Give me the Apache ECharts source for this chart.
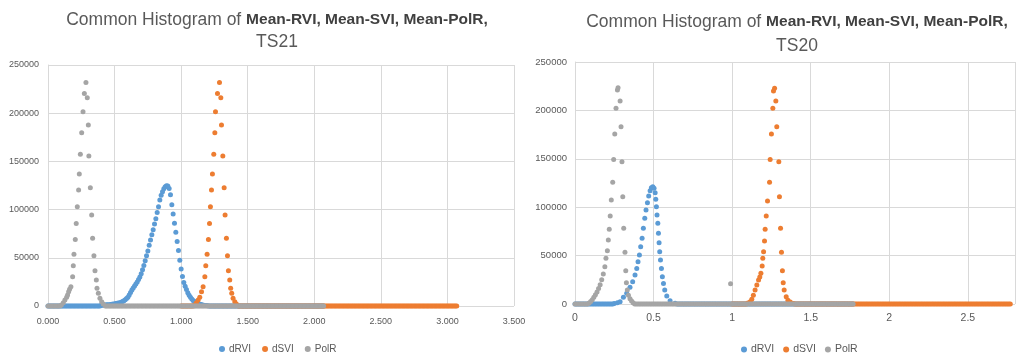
<!DOCTYPE html>
<html>
<head>
<meta charset="utf-8">
<script src="https://cdn.jsdelivr.net/npm/echarts@6/dist/echarts.min.js"></script>
<style>
  html, body { margin: 0; padding: 0; background: #fff; }
  #chart { width: 1017px; height: 358px; }
</style>
</head>
<body>
<div id="chart"></div>
<script>
// histogram bin width used for the flat (zero count) stretches
const binStep = 0.01

const seriesNames = ['dRVI', 'dSVI', 'PolR']
const yTicks = [0, 50000, 100000, 150000, 200000, 250000]

// ---- TS21 (left) ----
const ts21RviX = [0.40, 0.41, 0.42, 0.43, 0.44, 0.45, 0.46, 0.47, 0.48, 0.49, 0.50, 0.51, 0.52, 0.53, 0.54, 0.55, 0.56, 0.57, 0.58, 0.59,
  0.60, 0.61, 0.62, 0.63, 0.64, 0.65, 0.66, 0.67, 0.68, 0.69, 0.70, 0.71, 0.72, 0.73, 0.74, 0.75, 0.76, 0.77, 0.78, 0.79,
  0.80, 0.81, 0.82, 0.83, 0.84, 0.85, 0.86, 0.87, 0.88, 0.89, 0.90, 0.91, 0.92, 0.93, 0.94, 0.95, 0.96, 0.97, 0.98, 0.99,
  1.00, 1.01, 1.02, 1.03, 1.04, 1.05, 1.06, 1.07, 1.08, 1.09, 1.10, 1.11, 1.12, 1.13, 1.14, 1.15, 1.16, 1.17, 1.18, 1.19, 1.20]
const ts21RviY = [800, 900, 1000, 1100, 1200, 1300, 1400, 1600, 1800, 2000, 2200, 2500, 2800, 3100, 3500, 4000, 4600, 5400, 6400, 7700,
  9200, 11500, 14000, 16500, 18800, 20800, 22800, 25000, 27500, 30000, 33500, 37500, 42000, 47000, 52000, 57000, 63000, 68500, 74000, 79000,
  85000, 90500, 97000, 103000, 110000, 115000, 118600, 121500, 123700, 124800, 124500, 122000, 115500, 105000, 95400, 85800, 76400, 67000, 57500, 47500,
  38500, 30500, 24500, 20500, 17000, 13800, 11200, 9000, 7200, 5800, 4700, 3800, 3000, 2400, 1900, 1500, 1100, 800, 600, 400, 300]
const ts21RviZeros = [[0, 0.39], [1.21, 2.07]]

const ts21SviX = [1.10, 1.115, 1.128, 1.14, 1.153, 1.165, 1.178, 1.185, 1.195, 1.205, 1.213, 1.22, 1.228, 1.235, 1.245, 1.253, 1.258, 1.273,
  1.288, 1.298, 1.303, 1.313, 1.323, 1.33, 1.34, 1.348, 1.355, 1.365, 1.372, 1.38, 1.39, 1.403, 1.415]
const ts21SviY = [1000, 3400, 6200, 9000, 14900, 20000, 30400, 41800, 53600, 69100, 85700, 103000, 120300, 136900, 157300, 179800, 201500, 220500,
  231900, 216000, 187700, 155600, 122700, 94400, 70200, 52200, 36600, 27000, 18300, 13100, 8000, 4500, 2100]
const ts21SviZeros = [[1.0, 1.09], [1.43, 3.07]]

const ts21PolrX = [0.10, 0.115, 0.127, 0.14, 0.147, 0.155, 0.162, 0.172, 0.185, 0.19, 0.195, 0.205, 0.212, 0.22, 0.23, 0.235, 0.243, 0.253, 0.263, 0.273,
  0.285, 0.295, 0.303, 0.307, 0.318, 0.328, 0.335, 0.345, 0.353, 0.363, 0.368, 0.378, 0.39, 0.403, 0.415]
const ts21PolrY = [1000, 3400, 6200, 9000, 11400, 14900, 17300, 20000, 30400, 41800, 53600, 69100, 85700, 103000, 120300, 136900, 157300, 179800, 201500, 220500,
  231900, 216000, 187700, 155600, 122700, 94400, 70200, 52200, 36600, 27000, 18300, 13100, 8000, 4500, 2100]
const ts21PolrZeros = [[0, 0.09], [0.43, 2.07]]

// ---- TS20 (right) ----
const ts20RviX = [0.25, 0.27, 0.287, 0.308, 0.329, 0.35, 0.367, 0.382, 0.393, 0.401, 0.41, 0.418, 0.427, 0.435, 0.444, 0.452, 0.461, 0.469, 0.478, 0.486,
  0.495, 0.503, 0.51, 0.514, 0.518, 0.522, 0.527, 0.531, 0.535, 0.539, 0.544, 0.55, 0.556, 0.563, 0.571, 0.584, 0.605, 0.637]
const ts20RviY = [500, 1200, 2400, 6900, 11000, 17200, 23100, 30000, 36800, 43700, 50600, 59200, 67800, 78200, 88500, 97100, 104700, 111600, 117100, 120200,
  121200, 119500, 115000, 108100, 100500, 91900, 83300, 73000, 63400, 54000, 45500, 36800, 28200, 21300, 14500, 8300, 3400, 700]
const ts20RviZeros = [[0, 0.24], [0.65, 1.77]]

const ts20SviX = [1.10, 1.115, 1.125, 1.135, 1.146, 1.157, 1.168, 1.176, 1.183, 1.191, 1.195, 1.20, 1.206, 1.21, 1.217, 1.225, 1.238, 1.242, 1.25, 1.259,
  1.263, 1.27, 1.278, 1.284, 1.297, 1.301, 1.308, 1.314, 1.32, 1.325, 1.331, 1.344, 1.355, 1.37, 1.39]
const ts20SviY = [1000, 2400, 5000, 9000, 14500, 19500, 24800, 28000, 31700, 39300, 47200, 54000, 65100, 77100, 90900, 106400, 125700, 149400, 175600, 202100,
  220000, 222800, 209700, 183200, 147000, 110900, 78200, 53400, 34400, 22000, 14500, 7600, 4000, 2000, 500]
const ts20SviZeros = [[1.0, 1.09], [1.40, 2.77]]

const ts20PolrX = [0.09, 0.10, 0.11, 0.12, 0.13, 0.14, 0.15, 0.16, 0.17, 0.18, 0.19, 0.197, 0.206, 0.212, 0.218, 0.224, 0.231, 0.24, 0.246, 0.253,
  0.261, 0.27, 0.274, 0.287, 0.293, 0.299, 0.304, 0.31, 0.318, 0.323, 0.327, 0.333, 0.34, 0.35, 0.36, 0.37, 0.99]
const ts20PolrY = [1000, 2500, 4500, 7000, 9500, 12500, 16000, 20000, 25000, 31000, 38600, 47200, 55100, 66100, 77100, 90900, 107400, 125700, 149400, 175600,
  202100, 221000, 223500, 209700, 183200, 147000, 110900, 78200, 53400, 34400, 22000, 14500, 9000, 5500, 3000, 1200, 21000]
const ts20PolrZeros = [[0, 0.08], [0.38, 1.77]]

const colors = ['#5B9BD5', '#ED7D31', '#A5A5A5']

function buildPoints(xs, ys, zeros) {
  const pts = []
  zeros.forEach(([a, b]) => {
    for (let x = a; x <= b + 1e-9; x += binStep) pts.push([+x.toFixed(3), 0])
  })
  xs.forEach((x, i) => pts.push([x, ys[i]]))
  return pts
}

const gridLine = { lineStyle: { color: '#D9D9D9', width: 1 } }
const txt = '#595959'

function yAxisOf(gridIndex, size, margin) {
  return {
    type: 'value', gridIndex, min: yTicks[0], max: yTicks[yTicks.length - 1], interval: 50000,
    axisLine: { show: true, lineStyle: { color: '#D9D9D9' } },
    axisTick: { show: false },
    axisLabel: { color: txt, fontSize: size, margin, fontFamily: 'Liberation Sans', formatter: (v) => String(v) },
    splitLine: gridLine,
  }
}

const chartData = [
  [ts21RviX, ts21RviY, ts21RviZeros], [ts21SviX, ts21SviY, ts21SviZeros], [ts21PolrX, ts21PolrY, ts21PolrZeros],
  [ts20RviX, ts20RviY, ts20RviZeros], [ts20SviX, ts20SviY, ts20SviZeros], [ts20PolrX, ts20PolrY, ts20PolrZeros],
]

const series = chartData.map((d, i) => ({
  name: seriesNames[i % 3],
  type: 'scatter',
  xAxisIndex: i < 3 ? 0 : 1,
  yAxisIndex: i < 3 ? 0 : 1,
  symbolSize: 5,
  itemStyle: { color: colors[i % 3], opacity: 1 },
  data: buildPoints(d[0], d[1], d[2]),
  z: 2 + (i % 3),
}))

const titleRich = {
  n: { fontSize: 17.5, color: '#595959', fontWeight: 'normal', fontFamily: 'Liberation Sans' },
  b: { fontSize: 15.5, color: '#404040', fontWeight: 'bold', fontFamily: 'Liberation Sans' },
}

const option = {
  animation: false,
  color: colors,
  title: [
    {
      text: '{n|Common Histogram of }{b|Mean-RVI, Mean-SVI, Mean-PolR,}\n{n|TS21}',
      left: 272, top: 4, textAlign: 'center',
      textStyle: { lineHeight: 22, fontWeight: 'normal', rich: titleRich },
    },
    {
      text: '{n|Common Histogram of }{b|Mean-RVI, Mean-SVI, Mean-PolR,}\n{n|TS20}',
      left: 792, top: 5, textAlign: 'center',
      textStyle: { lineHeight: 24, fontWeight: 'normal', rich: titleRich },
    },
  ],
  legend: [
    {
      data: seriesNames, left: 214, top: 339, icon: 'circle', itemWidth: 6, itemHeight: 6, itemGap: 11,
      textStyle: { color: txt, fontSize: 10, fontFamily: 'Liberation Sans', padding: [0, 0, 0, -1] },
    },
    {
      data: seriesNames, left: 736, top: 339, icon: 'circle', itemWidth: 6, itemHeight: 6, itemGap: 9,
      textStyle: { color: txt, fontSize: 10.5, fontFamily: 'Liberation Sans', padding: [0, 0, 0, -1] },
    },
  ],
  grid: [
    { left: 48, right: 503, top: 65, bottom: 52 },
    { left: 575, right: 2, top: 62, bottom: 54 },
  ],
  xAxis: [
    {
      type: 'value', gridIndex: 0, min: 0, max: 3.5, interval: 0.5,
      axisLine: { show: false }, axisTick: { show: false },
      axisLabel: { color: txt, fontSize: 9, margin: 11, fontFamily: 'Liberation Sans', formatter: (v) => v.toFixed(3) },
      splitLine: gridLine,
    },
    {
      type: 'value', gridIndex: 1, min: 0, max: 2.8, interval: 0.5,
      axisLine: { show: false }, axisTick: { show: false },
      axisLabel: { color: txt, fontSize: 10.5, margin: 9, fontFamily: 'Liberation Sans', showMaxLabel: false },
      splitLine: gridLine,
    },
  ],
  yAxis: [yAxisOf(0, 9, 9), yAxisOf(1, 9.5, 8)],
  series,
}

const myChart = echarts.init(document.getElementById('chart'))
myChart.setOption(option)
</script>
</body>
</html>
